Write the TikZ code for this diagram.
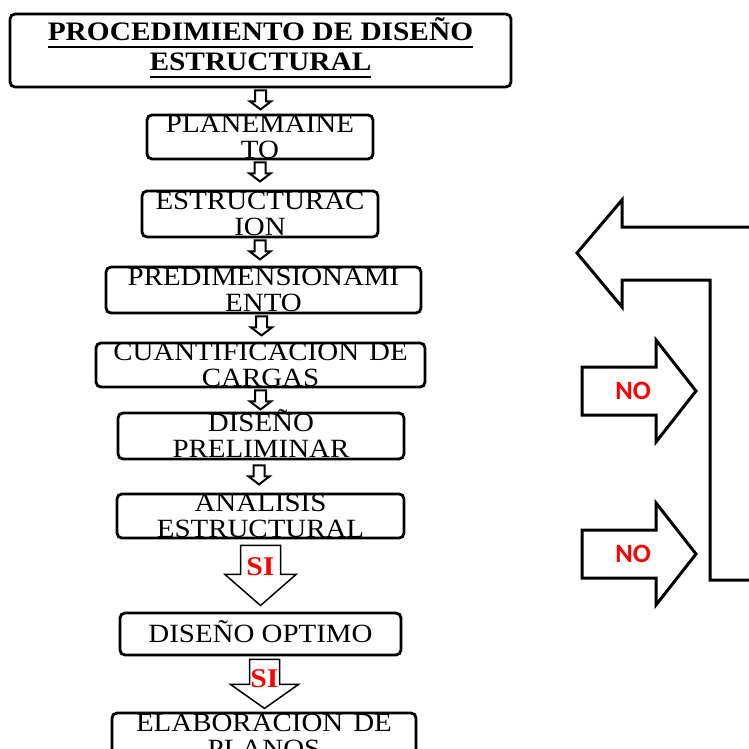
\documentclass[tikz,border=0pt]{standalone}
\usepackage{fontspec}
\usetikzlibrary{calc}
\newfontfamily\boxfont{Liberation Serif}[FakeStretch=1.1]
\newfontfamily\nofont{Carlito}
\definecolor{sired}{RGB}{255,0,0}
\tikzset{
  stepbox/.style={
    draw=black,
    line width=2.8pt,
    rounded corners=5pt,
    inner sep=0pt,
    align=center,
    font=\boxfont\fontsize{26.3}{26.5}\selectfont
  },
  blockline/.style={draw=black, line width=2pt, line join=miter},
  thinblock/.style={line width=1.5pt},
  thickblock/.style={line width=3pt},
  sitext/.style={text=sired, inner sep=0pt, font=\boxfont\bfseries\fontsize{27}{27}\selectfont},
  notext/.style={text=sired, inner sep=0pt, font=\nofont\bfseries\fontsize{26.5}{26.5}\selectfont}
}
\newcommand{\ulbar}[1]{\setbox0=\hbox{#1}\rlap{\rule[-7pt]{\wd0}{2pt}}\box0}
\newcommand{\blockdown}[6][]{%
  \draw[blockline, shift={#2}, #1] (-#3,0) -- (-#3,#4) -- (-#5,#4) -- (0,#4+#6)
    -- (#5,#4) -- (#3,#4) -- (#3,0) -- cycle;
}

\begin{document}
\begin{tikzpicture}[x=1pt, y=-1pt]
  \useasboundingbox (0,0) rectangle (749,749);
  \node[stepbox, minimum width=501, minimum height=73, font=\boxfont\bfseries\fontsize{26.7}{30}\selectfont] (title) at (260.5,50.5)
    {\ulbar{PROCEDIMIENTO DE DISE\smash{Ñ}O}\\\ulbar{ESTRUCTURAL}};
  \node[stepbox, minimum width=226, minimum height=44] (plan) at (260,137) {PLANEMAINE\\TO};
  \node[stepbox, minimum width=236, minimum height=46] (estr) at (260,214) {ESTRUCTURAC\\ION};
  \node[stepbox, minimum width=315, minimum height=46] (predim) at (263.5,290) {PREDIMENSIONAMI\\ENTO};
  \node[stepbox, minimum width=329, minimum height=44] (cuant) at (260.5,365) {CUANTIFICACION\hspace{10pt}DE\\CARGAS};
  \node[stepbox, minimum width=286, minimum height=46] (dispre) at (261,436) {DISE\smash{Ñ}O\\PRELIMINAR};
  \node[stepbox, minimum width=287, minimum height=44] (anal) at (260.5,516) {ANALISIS\\ESTRUCTURAL};
  \node[stepbox, minimum width=281, minimum height=42] (optimo) at (260.5,634) {DISE\smash{Ñ}O OPTIMO};
  \node[stepbox, minimum width=304, minimum height=46] (elab) at (264,736) {ELABORACION\hspace{10pt}DE\\PLANOS};

  \blockdown[yshift=-2pt]{(title.south)}{5.5}{11}{10.5}{8}
  \blockdown[yshift=-2pt]{(plan.south)}{5.5}{11}{10.5}{8}
  \blockdown[yshift=-2pt]{(estr.south)}{5.5}{11}{10.5}{8}
  \blockdown[xshift=-2pt, yshift=-2pt]{(predim.south)}{5.5}{11}{10.5}{8}
  \blockdown[yshift=-2pt]{(cuant.south)}{5.5}{11}{10.5}{8}
  \blockdown[xshift=-2pt, yshift=-5pt]{(dispre.south)}{5.5}{11}{10.5}{8}

  \blockdown[thinblock, yshift=-6pt]{(anal.south)}{20}{29}{35.5}{31}
  \node[sitext] (si1) at ($(anal.south)+(0,27)$) {SI};
  \blockdown[thinblock, xshift=4pt, yshift=-3pt]{(optimo.south)}{15}{25}{34}{24}
  \node[sitext] (si2) at ($(optimo.south)+(4,22)$) {SI};

  \node[notext] (no1) at (633,391) {NO};
  \node[notext] (no2) at (633,554) {NO};
  \blockdown[thickblock, rotate=90]{($(no1)+(-51,0)$)}{24}{74}{51}{40}
  \blockdown[thickblock, rotate=90]{($(no2)+(-51,0)$)}{24}{74}{51}{40}

  \draw[blockline, thickblock] (752,227) -- (622,227) -- (622,200) -- (577,253) -- (622,307)
    -- (622,280) -- (710,280) -- (710,580) -- (752,580);
\end{tikzpicture}
\end{document}
